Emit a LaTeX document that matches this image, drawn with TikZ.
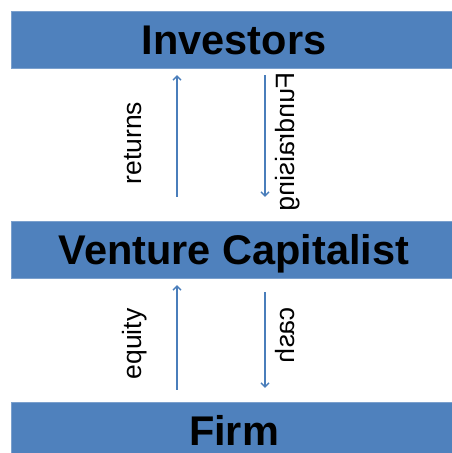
\documentclass[tikz,border=0pt]{standalone}
\usepackage{fontspec}
\setmainfont{Liberation Sans}
\usetikzlibrary{arrows.meta}
\definecolor{barblue}{HTML}{4F81BD}
\definecolor{lineblue}{HTML}{4A7EBB}
\tikzset{
	bar/.style={fill=barblue, draw=barblue!75!white, minimum width=441pt, minimum height=57pt, inner sep=0pt,
		font=\fontsize{41.5}{41.5}\selectfont\bfseries, text height=29.5pt, text depth=0pt},
	flow/.style={lineblue, line width=1.4pt, -{Straight Barb[length=4pt,width=8pt]}},
	lbl/.style={font=\fontsize{26.5}{26.5}\selectfont, rotate=90},
	rlbl/.style={font=\fontsize{26.5}{26.5}\selectfont, rotate=90, xscale=-1},
}
\begin{document}
\begin{tikzpicture}[x=1pt,y=1pt]
	\useasboundingbox (0,0) rectangle (452,453);
	\node[bar] (inv) at (231.5,413.5) {\hspace*{5pt}Investors};
	\node[bar] (vc) at (231.5,203.5) {\hspace*{5pt}Venture Capitalist};
	\node[bar] (firm) at (231.5,22.5) {\hspace*{5pt}Firm};
	\coordinate (up) at (177,0);
	\coordinate (down) at (265,0);
	\draw[flow, shorten <=24pt, shorten >=7pt] (vc.north -| up) -- (inv.south -| up);
	\draw[flow, shorten <=7pt, shorten >=24pt] (inv.south -| down) -- (vc.north -| down);
	\draw[flow, shorten <=12pt, shorten >=7pt] (firm.north -| up) -- (vc.south -| up);
	\draw[flow, shorten <=14pt, shorten >=14pt] (vc.south -| down) -- (firm.north -| down);
	\node[lbl] (ret) at (133,310) {returns};
	\node[rlbl] (fund) at (288,311) {Fundraising};
	\node[lbl] (eq) at (135,109) {equity};
	\node[rlbl] (cash) at (285,118) {cash};
\end{tikzpicture}
\end{document}
